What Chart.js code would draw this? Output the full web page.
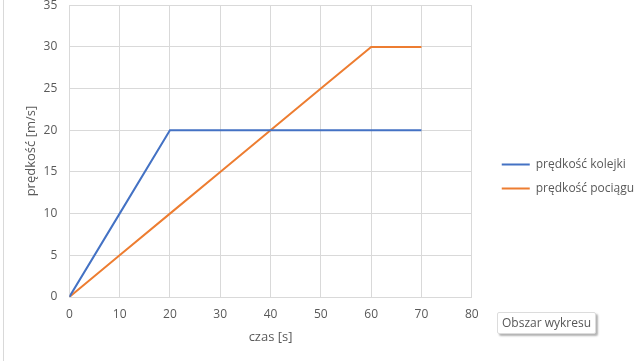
<!DOCTYPE html>
<html>
<head>
<meta charset="utf-8">
<script src="https://cdn.jsdelivr.net/npm/chart.js@4/dist/chart.umd.min.js"></script>
<style>
  html, body { margin: 0; padding: 0; background: #fff; }
  #ramka { position: relative; height: 361px; overflow: hidden; border-left: 1px solid #d9d9d9; box-sizing: border-box; margin-left: 3px; width: 637px; }
  #wykres { position: absolute; left: -4px; top: -14px; }
  #dymek {
    position: absolute; left: 493px; top: 312px;
    font-family: "Open Sans", sans-serif; font-size: 12px; color: #575757;
    background: #fff; border: 1px solid #dcdcdc; border-radius: 2px;
    padding: 1px 4px 2px 4px; box-shadow: 2px 2px 2px rgba(0,0,0,0.3);
  }
</style>
</head>
<body>
<div id="ramka">
  <canvas id="wykres" width="640" height="369"></canvas>
  <div id="dymek">Obszar wykresu</div>
</div>
<script>
// dane z wykresu
var czas = [0, 10, 20, 30, 40, 50, 60, 70];
var predkosc_kolejki = [0, 10, 20, 20, 20, 20, 20, 20];
var predkosc_pociagu = [0, 5, 10, 15, 20, 25, 30, 30];
var nazwy_serii = ["prędkość kolejki", "prędkość pociągu"];
var kolory_serii = ["#4472C4", "#ED7D31"];

var szary_tekst = "#595959";
var szara_siatka = "#d9d9d9";
var czcionka = "'Open Sans', sans-serif";

function punkty(ys) {
    var out = [];
    for (var i = 0; i < czas.length; i++) {
        out.push({x: czas[i], y: ys[i]});
    }
    return out;
}

// przesuwa legendę w prawo i w dół, żeby zostawić odstęp od obszaru wykresu
var przesunLegende = {
    id: 'przesunLegende',
    afterLayout: function(chart) {
        chart.legend.left += 18;
        chart.legend.right += 18;
        chart.legend.top += 11;
        chart.legend.bottom += 11;
    }
};

var ctx = document.getElementById('wykres');
var wykres = new Chart(ctx, {
    type: 'line',
    data: {
        datasets: [{
            label: nazwy_serii[0],
            data: punkty(predkosc_kolejki),
            borderColor: kolory_serii[0],
            backgroundColor: kolory_serii[0],
            borderWidth: 2,
            pointRadius: 0,
            tension: 0
        }, {
            label: nazwy_serii[1],
            data: punkty(predkosc_pociagu),
            borderColor: kolory_serii[1],
            backgroundColor: kolory_serii[1],
            borderWidth: 2,
            pointRadius: 0,
            tension: 0
        }]
    },
    plugins: [przesunLegende],
    options: {
        responsive: false,
        animation: false,
        layout: { padding: { left: 12, right: 15, top: 0, bottom: 10 } },
        plugins: {
            tooltip: { enabled: false },
            legend: {
                position: 'right',
                align: 'center',
                labels: {
                    usePointStyle: true,
                    pointStyle: 'line',
                    pointStyleWidth: 28,
                    padding: 12,
                    color: szary_tekst,
                    font: { family: czcionka, size: 12 }
                }
            }
        },
        scales: {
            x: {
                type: 'linear',
                min: 0,
                max: 80,
                ticks: { stepSize: 10, color: szary_tekst, font: { family: czcionka, size: 12 }, padding: 10 },
                grid: { color: szara_siatka, drawTicks: false },
                border: { color: szara_siatka },
                title: { display: true, text: 'czas [s]', color: szary_tekst, font: { family: czcionka, size: 13 }, padding: { top: -2, bottom: 0 } }
            },
            y: {
                min: 0,
                max: 35,
                ticks: { stepSize: 5, color: szary_tekst, font: { family: czcionka, size: 12 }, padding: 12 },
                grid: { color: szara_siatka, drawTicks: false },
                border: { color: szara_siatka },
                title: { display: true, text: 'prędkość [m/s]', color: szary_tekst, font: { family: czcionka, size: 13 }, padding: { top: 11, bottom: -7 } }
            }
        }
    }
});
</script>
</body>
</html>
